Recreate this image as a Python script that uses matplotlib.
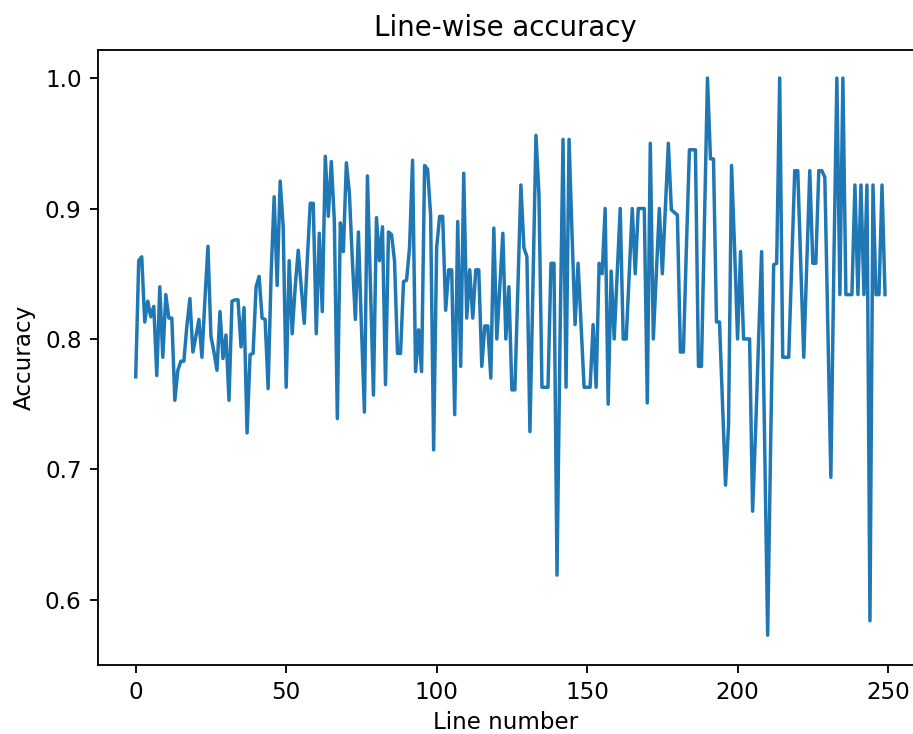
import numpy as np
import matplotlib
matplotlib.use("Agg")
import matplotlib.pyplot as plt

# --------------------------------------------------------------------------
# DATOS: precision por linea
# --------------------------------------------------------------------------
accuracy = [
    0.771, 0.860, 0.863, 0.813, 0.829, 0.817, 0.825, 0.772, 0.840, 0.786,
    0.834, 0.816, 0.816, 0.753, 0.776, 0.783, 0.783, 0.810, 0.831, 0.790,
    0.802, 0.815, 0.786, 0.830, 0.871, 0.802, 0.790, 0.776, 0.821, 0.785,
    0.803, 0.753, 0.829, 0.830, 0.830, 0.794, 0.824, 0.728, 0.788, 0.789,
    0.840, 0.848, 0.816, 0.815, 0.762, 0.850, 0.909, 0.841, 0.921, 0.886,
    0.763, 0.860, 0.804, 0.840, 0.868, 0.840, 0.812, 0.860, 0.904, 0.904,
    0.804, 0.881, 0.821, 0.940, 0.894, 0.936, 0.891, 0.739, 0.889, 0.867,
    0.935, 0.912, 0.860, 0.815, 0.882, 0.810, 0.744, 0.925, 0.840, 0.757,
    0.893, 0.860, 0.886, 0.765, 0.882, 0.880, 0.860, 0.789, 0.789, 0.844,
    0.845, 0.870, 0.937, 0.775, 0.807, 0.775, 0.933, 0.930, 0.895, 0.715,
    0.870, 0.894, 0.894, 0.822, 0.853, 0.853, 0.742, 0.890, 0.779, 0.927,
    0.816, 0.853, 0.816, 0.853, 0.853, 0.779, 0.810, 0.810, 0.770, 0.885,
    0.800, 0.840, 0.881, 0.800, 0.840, 0.761, 0.761, 0.840, 0.918, 0.870,
    0.863, 0.729, 0.840, 0.956, 0.911, 0.763, 0.763, 0.763, 0.858, 0.858,
    0.619, 0.800, 0.953, 0.763, 0.953, 0.880, 0.811, 0.858, 0.810, 0.763,
    0.763, 0.763, 0.811, 0.763, 0.858, 0.850, 0.900, 0.750, 0.852, 0.800,
    0.850, 0.900, 0.800, 0.800, 0.850, 0.900, 0.850, 0.900, 0.900, 0.900,
    0.751, 0.950, 0.800, 0.850, 0.900, 0.850, 0.900, 0.950, 0.899, 0.897,
    0.895, 0.790, 0.790, 0.870, 0.945, 0.945, 0.945, 0.779, 0.779, 0.890,
    1.000, 0.938, 0.938, 0.813, 0.813, 0.750, 0.688, 0.734, 0.933, 0.870,
    0.800, 0.867, 0.800, 0.800, 0.800, 0.668, 0.730, 0.800, 0.867, 0.720,
    0.573, 0.720, 0.857, 0.858, 1.000, 0.786, 0.786, 0.786, 0.857, 0.929,
    0.929, 0.857, 0.786, 0.857, 0.929, 0.858, 0.858, 0.929, 0.929, 0.924,
    0.810, 0.694, 0.857, 1.000, 0.834, 1.000, 0.834, 0.834, 0.834, 0.918,
    0.834, 0.918, 0.834, 0.918, 0.584, 0.918, 0.834, 0.834, 0.918, 0.834,
]
line_number = np.arange(len(accuracy))

# --------------------------------------------------------------------------
# FIGURA (el original es un recorte: el borde derecho del eje queda fuera)
# --------------------------------------------------------------------------
DPI = 166
W, H = 913, 734
fig = plt.figure(figsize=(W / DPI, H / DPI), dpi=DPI)
ax = fig.add_axes([97.8 / W, (H - 664.5) / H, (W - 97.8) / W, (664.5 - 49.6) / H])

ax.plot(line_number, accuracy)
ax.set_xlim(-12.6, 258.3)
ax.set_ylim(0.5505, 1.0218)
ax.spines["right"].set_visible(False)

ax.set_title("Line-wise accuracy")
ax.set_xlabel("Line number", labelpad=3.0)
ax.set_ylabel("Accuracy")

fig.savefig("out.png", dpi=DPI)
